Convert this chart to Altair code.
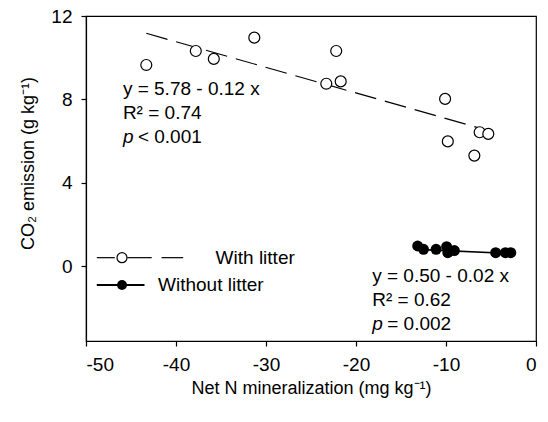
import altair as alt
import pandas as pd

# ---- data ----
with_x = [-43.3, -37.8, -35.8, -31.3, -23.3, -22.2, -21.7, -10.1, -9.8, -6.85, -6.26, -5.3]
with_y = [9.65, 10.32, 9.94, 10.96, 8.75, 10.32, 8.86, 8.02, 5.98, 5.30, 6.42, 6.34]
without_x = [-13.15, -12.5, -11.1, -9.93, -9.8, -9.07, -4.48, -3.4, -2.8]
without_y = [0.96, 0.80, 0.80, 0.93, 0.64, 0.74, 0.64, 0.64, 0.64]

with_fit_x = [-43.3, -5.3]
with_fit_y = [11.17, 6.50]
without_fit_x = [-13.15, -2.8]
without_fit_y = [0.80, 0.60]

x_ticks = [-50, -40, -30, -20, -10, 0]
y_ticks = [0, 4, 8, 12]

ann_x = [-45.9, -18.2]
eq_text = ["y = 5.78 - 0.12 x", "y = 0.50 - 0.02 x"]
eq_y = [8.50, -0.48]
r2_text = ["R\u00b2 = 0.74", "R\u00b2 = 0.62"]
r2_y = [7.35, -1.63]
p_rest = ["< 0.001", "= 0.002"]
p_y = [6.19, -2.78]

legend_labels = ["With litter", "Without litter"]
legend_y = [0.40, -0.91]
legend_text_x = [-35.6, -42.0]
legend_marker_x = [-46.0, -46.0]
legend_dash_x = [-48.8, -45.4, -41.6]
legend_dash_x2 = [-46.8, -42.7, -39.2]
legend_solid_x = [-48.8]
legend_solid_x2 = [-43.5]

FONT = "Liberation Sans"

xs = alt.Scale(domain=[-50, 0], nice=False, zero=False)
ys = alt.Scale(domain=[-3.6, 12], nice=False, zero=False)

x_axis = alt.Axis(values=x_ticks, title="Net N mineralization (mg kg\u207b\u00b9)",
                  labelExpr="datum.value + ''",
                  grid=False, labelFontSize=19, titleFontSize=18, labelPadding=9,
                  tickSize=5, titleY=47, titleBaseline="middle", titleFontWeight="normal")
y_axis = alt.Axis(values=y_ticks, title="CO\u2082 emission (g kg\u207b\u00b9)",
                  labelExpr="datum.value + ''",
                  grid=False, labelFontSize=19, titleFontSize=18, labelPadding=9,
                  tickSize=5, titleX=-58, titleY=147, titleBaseline="middle",
                  titleAlign="center", titleAngle=270, titleFontWeight="normal")


def X(field="x"):
    return alt.X(f"{field}:Q", scale=xs, axis=x_axis)


def Y(field="y"):
    return alt.Y(f"{field}:Q", scale=ys, axis=y_axis)


with_df = pd.DataFrame({"x": with_x, "y": with_y})
without_df = pd.DataFrame({"x": without_x, "y": without_y})
wfit = pd.DataFrame({"x": with_fit_x, "y": with_fit_y})
wofit = pd.DataFrame({"x": without_fit_x, "y": without_fit_y})

fit_with = alt.Chart(wfit).mark_line(color="black", strokeWidth=1.2, strokeDash=[22, 9]).encode(
    x=X(), y=Y())
fit_without = alt.Chart(wofit).mark_line(color="black", strokeWidth=1.6).encode(x=X(), y=Y())

pts_with = alt.Chart(with_df).mark_point(shape="circle", size=120, filled=False, fill="white",
                                         stroke="black", strokeWidth=1.2, opacity=1).encode(x=X(), y=Y())
pts_without = alt.Chart(without_df).mark_point(shape="circle", size=120, filled=True,
                                               color="black", opacity=1).encode(x=X(), y=Y())

ann_df = pd.DataFrame({"x": ann_x, "eq": eq_text, "eqy": eq_y, "r2": r2_text, "r2y": r2_y,
                       "p": p_rest, "py": p_y})
txt = dict(font=FONT, fontSize=19, align="left", baseline="middle", color="black")
eq_layer = alt.Chart(ann_df).mark_text(**txt).encode(x=X(), y=Y("eqy"), text="eq:N")
r2_layer = alt.Chart(ann_df).mark_text(**txt).encode(x=X(), y=Y("r2y"), text="r2:N")
p_layer = alt.Chart(ann_df).mark_text(fontStyle="italic", **txt).encode(
    x=X(), y=Y("py"), text=alt.value("p"))
prest_layer = alt.Chart(ann_df).mark_text(dx=15, **txt).encode(x=X(), y=Y("py"), text="p:N")

# legend
leg_dash = pd.DataFrame({"x": legend_dash_x, "x2": legend_dash_x2, "y": [legend_y[0]] * 3})
leg_solid = pd.DataFrame({"x": legend_solid_x, "x2": legend_solid_x2, "y": [legend_y[1]]})
leg_txt = pd.DataFrame({"x": legend_text_x, "y": legend_y, "t": legend_labels})
leg_m1 = pd.DataFrame({"x": [legend_marker_x[0]], "y": [legend_y[0]]})
leg_m2 = pd.DataFrame({"x": [legend_marker_x[1]], "y": [legend_y[1]]})

leg_l1 = alt.Chart(leg_dash).mark_rule(color="black", strokeWidth=1.2).encode(
    x=X(), x2="x2:Q", y=Y())
leg_l2 = alt.Chart(leg_solid).mark_rule(color="black", strokeWidth=2).encode(
    x=X(), x2="x2:Q", y=Y())
leg_p1 = alt.Chart(leg_m1).mark_point(shape="circle", size=100, filled=False, fill="white",
                                      stroke="black", strokeWidth=1.2, opacity=1).encode(x=X(), y=Y())
leg_p2 = alt.Chart(leg_m2).mark_point(shape="circle", size=100, filled=True, color="black",
                                      opacity=1).encode(x=X(), y=Y())
leg_t = alt.Chart(leg_txt).mark_text(**txt).encode(x=X(), y=Y(), text="t:N")

chart = alt.layer(
    fit_with, fit_without, pts_with, pts_without,
    eq_layer, r2_layer, p_layer, prest_layer,
    leg_l1, leg_l2, leg_p1, leg_p2, leg_t,
).properties(
    width=450, height=325,
    autosize=alt.AutoSizeParams(type="none"),
    padding={"left": 86, "top": 16, "right": 12, "bottom": 81},
    background="white",
).configure_view(
    stroke="black", strokeWidth=1.2
).configure_axis(
    labelFont=FONT, titleFont=FONT, labelColor="black", titleColor="black",
    domainColor="black", tickColor="black", domainWidth=1.2, tickWidth=1.2,
)

chart.save("out.html", embed_options={"renderer": "svg", "actions": False})
